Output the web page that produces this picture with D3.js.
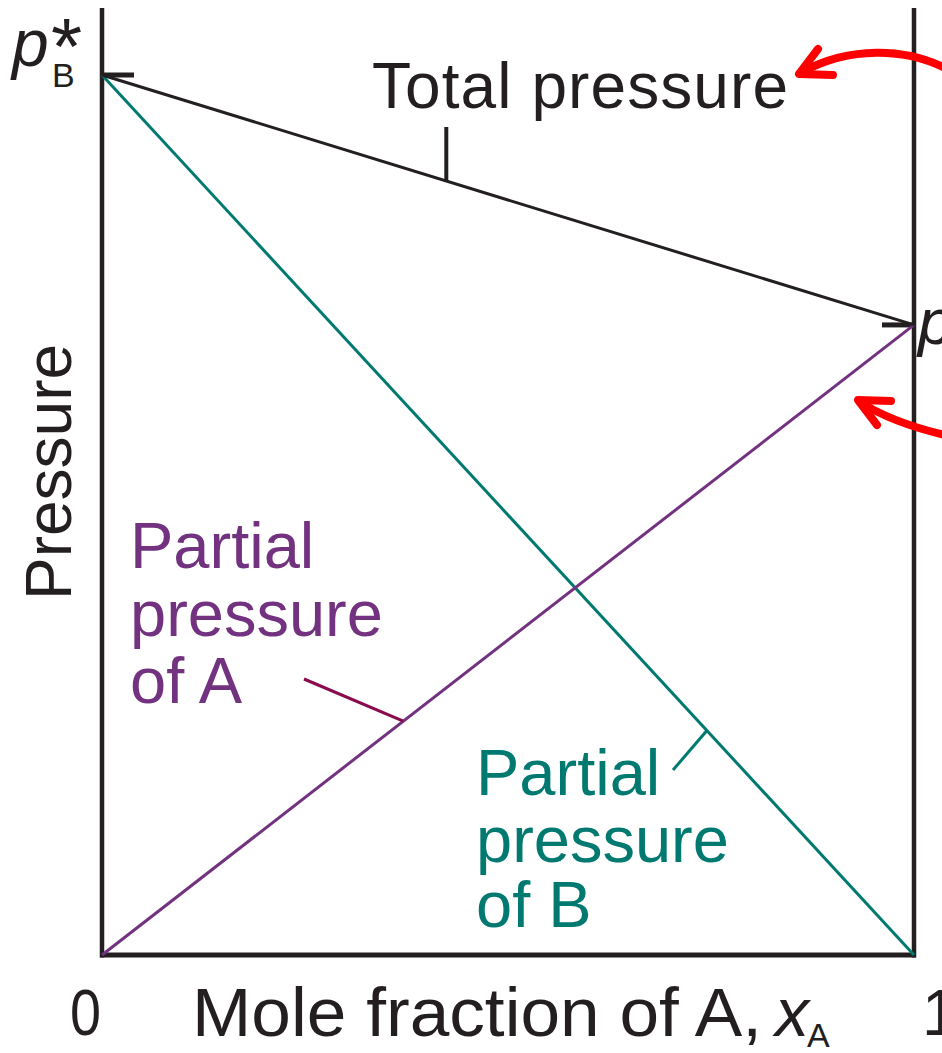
<!DOCTYPE html>
<html>
<head>
<meta charset="utf-8">
<script src="https://cdn.jsdelivr.net/npm/d3@7"></script>
<style>
  html, body { margin: 0; padding: 0; background: #fff; }
  svg { display: block; font-family: "Liberation Sans", Arial, Helvetica, sans-serif; }
</style>
</head>
<body>
<svg id="chart" width="942" height="1053"></svg>
<script>
// ---- data ----
const xA = [0, 1];                 // mole fraction of A
const pBstar = 1.0;                // vapour pressure of pure B (relative)
const pAstar = 0.716;              // vapour pressure of pure A (relative)
const partialA = [0, pAstar];      // partial pressure of A
const partialB = [pBstar, 0];      // partial pressure of B
const totalP = [pBstar, pAstar];   // total pressure
const xTickLabels = ["0", "1"];

// ---- layout ----
const svg = d3.select("#chart");
const x = d3.scaleLinear().domain([0, 1]).range([102, 914]);
const y = d3.scaleLinear().domain([0, 1]).range([955, 75]);

const BLACK = "#231f20", PURPLE = "#72327f", TEAL = "#007a70", MAROON = "#8a0a4e", RED = "#ff0000";

const line = d3.line().x(d => x(d[0])).y(d => y(d[1]));
const pts = arr => xA.map((v, i) => [v, arr[i]]);

// axes frame (left, right, bottom)
const yTop = y(1.076);
svg.append("line").attr("x1", x(0)).attr("x2", x(0)).attr("y1", yTop).attr("y2", y(0) + 2.5)
  .attr("stroke", BLACK).attr("stroke-width", 4.5);
svg.append("line").attr("x1", x(1)).attr("x2", x(1)).attr("y1", yTop).attr("y2", y(0) + 2.5)
  .attr("stroke", BLACK).attr("stroke-width", 4.5);
svg.append("line").attr("x1", x(0) - 2).attr("x2", x(1) + 2).attr("y1", y(0)).attr("y2", y(0))
  .attr("stroke", BLACK).attr("stroke-width", 5);

// tick marks for p*B and p*A
svg.append("line").attr("x1", x(0)).attr("x2", x(0) + 32).attr("y1", y(pBstar)).attr("y2", y(pBstar))
  .attr("stroke", BLACK).attr("stroke-width", 5);
svg.append("line").attr("x1", x(1) - 32).attr("x2", x(1)).attr("y1", y(pAstar)).attr("y2", y(pAstar))
  .attr("stroke", BLACK).attr("stroke-width", 5);

// data lines
svg.append("path").attr("d", line(pts(partialB))).attr("fill", "none").attr("stroke", TEAL).attr("stroke-width", 3);
svg.append("path").attr("d", line(pts(partialA))).attr("fill", "none").attr("stroke", PURPLE).attr("stroke-width", 3);
svg.append("path").attr("d", line(pts(totalP))).attr("fill", "none").attr("stroke", BLACK).attr("stroke-width", 3);

// leader lines
const lerp = (arr, t) => arr[0] + (arr[1] - arr[0]) * t;
const tT = 0.424, tA = 0.371, tB = 0.745;
svg.append("line").attr("x1", x(tT)).attr("x2", x(tT)).attr("y1", 127).attr("y2", y(lerp(totalP, tT)))
  .attr("stroke", BLACK).attr("stroke-width", 4);
svg.append("line").attr("x1", 304).attr("y1", 679).attr("x2", x(tA)).attr("y2", y(lerp(partialA, tA)))
  .attr("stroke", MAROON).attr("stroke-width", 3);
svg.append("line").attr("x1", 673).attr("y1", 770).attr("x2", x(tB)).attr("y2", y(lerp(partialB, tB)))
  .attr("stroke", TEAL).attr("stroke-width", 3);

// labels
const FS = 65;
svg.append("text").attr("x", 372).attr("y", 108).attr("font-size", 64).attr("fill", BLACK)
  .attr("textLength", 416).text("Total pressure");

function multi(lines, x0, ys, color) {
  lines.forEach((t, i) => svg.append("text").attr("x", x0).attr("y", ys[i]).attr("font-size", FS)
    .attr("fill", color).text(t));
}
multi(["Partial", "pressure", "of A"], 130, [568, 636, 703], PURPLE);
multi(["Partial", "pressure", "of B"], 476, [795, 862, 927], TEAL);

// y axis title
svg.append("text").attr("transform", "translate(71,472) rotate(-90)").attr("text-anchor", "middle")
  .attr("font-size", 64).attr("fill", BLACK).text("Pressure");

// x tick labels
svg.append("text").attr("x", x(0) - 1).attr("y", 1035).attr("text-anchor", "end").attr("font-size", 64)
  .attr("fill", BLACK).attr("textLength", 31).attr("lengthAdjust", "spacingAndGlyphs").text(xTickLabels[0]);
svg.append("text").attr("x", x(1) + 8).attr("y", 1035).attr("text-anchor", "start").attr("font-size", 64)
  .attr("fill", BLACK).text(xTickLabels[1]);

// x axis title
svg.append("text").attr("x", 192).attr("y", 1036).attr("font-size", 68).attr("fill", BLACK)
  .attr("textLength", 570).attr("lengthAdjust", "spacingAndGlyphs").text("Mole fraction of A,");
const xt = svg.append("text").attr("x", 775).attr("y", 1036).attr("font-size", 68).attr("fill", BLACK);
xt.append("tspan").attr("font-style", "italic").text("x");
xt.append("tspan").attr("font-size", 34).attr("dy", 11).attr("dx", -2).text("A");

// p*B label
svg.append("text").attr("x", 12).attr("y", 66).attr("font-size", 66).attr("font-style", "italic")
  .attr("fill", BLACK).text("p");
svg.append("text").attr("x", 51).attr("y", 74).attr("font-size", 80).attr("fill", BLACK).text("*");
svg.append("text").attr("x", 52).attr("y", 87).attr("font-size", 34).attr("fill", BLACK).text("B");

// p*A label (cut at edge)
svg.append("text").attr("x", 918).attr("y", 344).attr("font-size", 64).attr("font-style", "italic")
  .attr("fill", BLACK).text("p");

// red annotation arrows
function arrow(d, tip, h1, h2) {
  svg.append("path").attr("d", d).attr("fill", "none").attr("stroke", RED).attr("stroke-width", 8)
    .attr("stroke-linecap", "round");
  svg.append("path").attr("d", `M${h1[0]},${h1[1]}L${tip[0]},${tip[1]}L${h2[0]},${h2[1]}`)
    .attr("fill", "none").attr("stroke", RED).attr("stroke-width", 8)
    .attr("stroke-linecap", "round").attr("stroke-linejoin", "round");
}
arrow("M945,68 C905,48 850,46 802,72", [799, 74], [818, 49], [833, 75]);
arrow("M945,435 C915,428 885,418 860,402", [858, 400], [891, 401], [877, 425]);
</script>
</body>
</html>
